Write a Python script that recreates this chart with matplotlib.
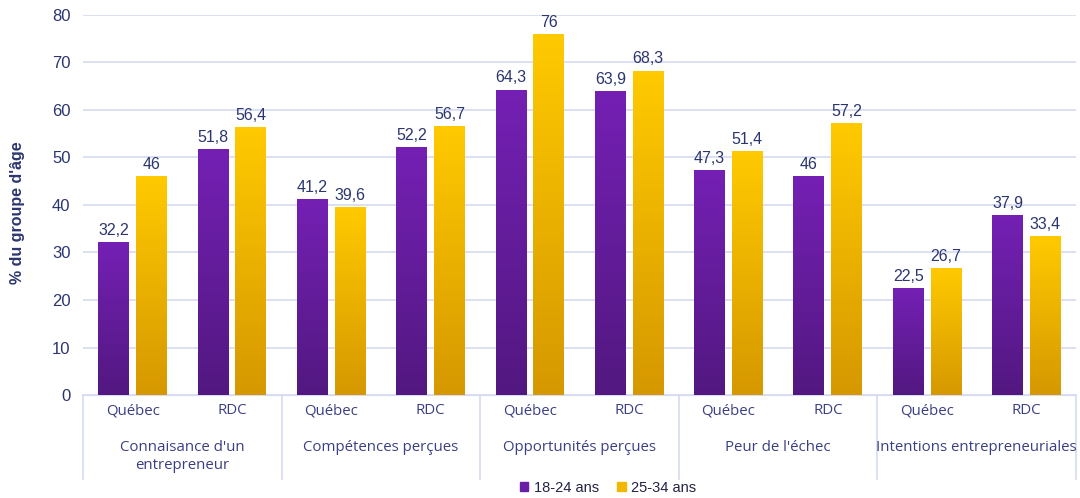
import numpy as np
import matplotlib.pyplot as plt
import matplotlib.transforms as mtransforms
from matplotlib.colors import LinearSegmentedColormap

groups = ["Connaisance d'un\nentrepreneur", "Compétences perçues", "Opportunités perçues",
          "Peur de l'échec", "Intentions entrepreneuriales"]
regions = ["Québec", "RDC"]
age_18_24 = [32.2, 51.8, 41.2, 52.2, 64.3, 63.9, 47.3, 46, 22.5, 37.9]
age_25_34 = [46, 56.4, 39.6, 56.7, 76, 68.3, 51.4, 57.2, 26.7, 33.4]
series_names = ["18-24 ans", "25-34 ans"]

navy = '#2B3570'
label_col = '#3A3F85'

fig = plt.figure(figsize=(10.8, 4.98), dpi=100)
ax = fig.add_axes([83/1080, 103/498, (1076-83)/1080, 380/498])

x = np.arange(len(age_18_24))
w = 0.31
off = 0.19

cmaps = [LinearSegmentedColormap.from_list('p', ['#521880', '#7420B4']),
         LinearSegmentedColormap.from_list('y', ['#D69800', '#FFCA00'])]
grad = np.linspace(0, 1, 256).reshape(-1, 1)

for k, (vals, sign) in enumerate([(age_18_24, -1), (age_25_34, 1)]):
    bars = ax.bar(x + sign * off, vals, width=w, color='none', edgecolor='none', zorder=3)
    for b, v in zip(bars, vals):
        x0 = b.get_x()
        im = ax.imshow(grad, cmap=cmaps[k], origin='lower', aspect='auto',
                       extent=[x0, x0 + w, 0, v], zorder=3)
        im.set_clip_path(b)
        ax.annotate(str(v).replace('.', ','), (b.get_x() + w / 2, v), xytext=(0, 3),
                    textcoords='offset points', ha='center', va='bottom',
                    fontsize=11.5, color=navy, family='Liberation Sans')

ax.set_xlim(-0.5, 9.5)
ax.set_ylim(0, 80)
ax.set_yticks(range(0, 81, 10))
ax.yaxis.grid(True, color='#D6DAF4', linewidth=1.2)
ax.set_axisbelow(True)
for s in ['top', 'right', 'left']:
    ax.spines[s].set_visible(False)
ax.spines['bottom'].set_color('#D6DAF4')
ax.tick_params(axis='y', length=0, labelsize=12, labelcolor=navy, pad=9)
for t in ax.get_yticklabels():
    t.set_family('Liberation Sans')

ax.set_xticks(x)
ax.set_xticklabels(regions * len(groups), fontsize=10.8, color=label_col, family='Open Sans')
ax.tick_params(axis='x', length=0, pad=6)

trans = mtransforms.blended_transform_factory(ax.transData, ax.transAxes)
for i, g in enumerate(groups):
    ax.text(2 * i + 0.5, -0.118, g, transform=trans, ha='center', va='top',
            fontsize=10.8, color=label_col, family='Open Sans', linespacing=1.3)
for xb in np.arange(-0.5, 10, 2):
    ax.plot([xb, xb], [0, -0.22], transform=trans, color='#D6DAF4', lw=1.2, clip_on=False)

ax.set_ylabel("% du groupe d'âge", fontsize=11.5, fontweight='bold', color=navy,
              family='Liberation Sans')
ax.yaxis.set_label_coords(-0.058, 0.48)

handles = [plt.Rectangle((0, 0), 1, 1, color=c) for c in ['#6A1EA6', '#F2B800']]
fig.legend(handles, series_names, loc='center', bbox_to_anchor=(608/1080, 1 - 488/498),
           ncol=2, frameon=False, handlelength=0.6, handleheight=0.6,
           handletextpad=0.4, columnspacing=1.2, prop={'family': 'Liberation Sans', 'size': 10.5})
for t in fig.legends[0].get_texts():
    t.set_color('#222244')

fig.savefig('out.png', dpi=100)
